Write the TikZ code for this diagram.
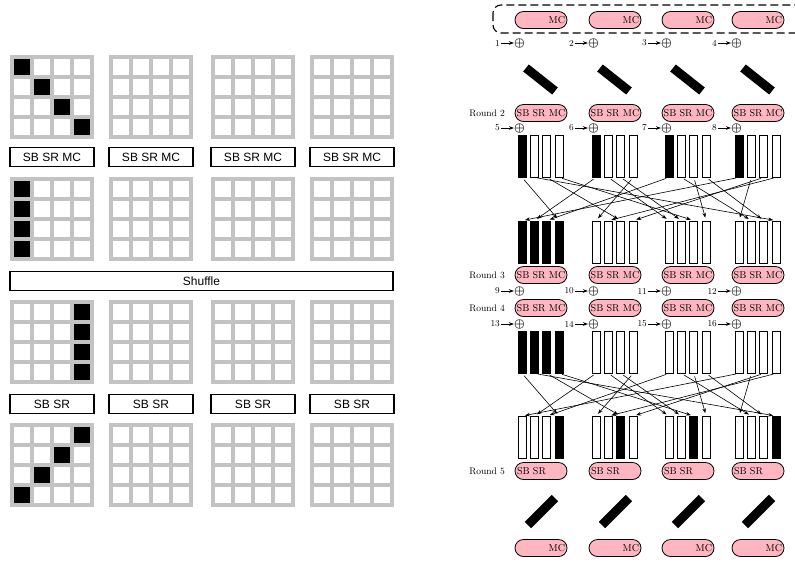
\documentclass[tikz,border=0pt]{standalone}
\usepackage{amsmath}
\usepackage{fontspec}
\newfontfamily\arialfont{Liberation Sans}
\usepackage{xcolor}
\usetikzlibrary{arrows.meta}
\definecolor{pillpink}{RGB}{255,182,193}
\definecolor{gridgray}{RGB}{195,195,195}
\begin{document}
\begin{tikzpicture}[x=1pt, y=-1pt, >={Stealth[length=5pt,width=3.6pt]},
  box/.style={draw, line width=1.6pt, minimum height=19pt, inner sep=0pt, font=\arialfont\fontsize{12}{14}\selectfont},
  pill/.style={draw, fill=pillpink, rounded corners=8.5pt, minimum height=17pt, minimum width=52pt, inner sep=1pt, line width=0.8pt, font=\fontsize{10}{11}\selectfont},
  side/.style={pill, text width=48pt, inner sep=2pt},
  colbox/.style={draw, minimum width=8pt, minimum height=42pt, inner sep=0pt, line width=0.8pt},
  rnd/.style={anchor=east, inner sep=1pt, font=\fontsize{9.5}{10}\selectfont},
  num/.style={anchor=east, inner sep=1pt, font=\fontsize{9}{10}\selectfont},
  xo/.style={inner sep=0pt, font=\fontsize{12.5}{12}\selectfont},
  cell/.style={gridgray, line width=3.5pt, line cap=rect},
  bar/.style={line width=9pt},
  perm/.style={->, line width=0.6pt, shorten <=3pt, shorten >=3pt}]

\fill[white] (0,0) rectangle (795,563);
\useasboundingbox (0,0) rectangle (795,563);

% left: active bytes in the first state
\foreach \i in {0,...,3} {
  \fill ({12+20*\i},{57+20*\i}) rectangle +(20,20);
  \fill (12,{179+20*\i}) rectangle +(20,20);
  \fill (72,{302+20*\i}) rectangle +(20,20);
  \fill ({12+20*(3-\i)},{425+20*\i}) rectangle +(20,20);
}
\foreach \gx in {10,109,211,310}
  \foreach \gy in {55,177,300,423}
    \foreach \k in {0,...,4} {
      \draw[cell] (\gx+2+20*\k,\gy+2) -- (\gx+2+20*\k,\gy+82);
      \draw[cell] (\gx+2,\gy+2+20*\k) -- (\gx+82,\gy+2+20*\k);
    }
\foreach \gx [count=\n] in {10,109,211,310} {
  \node[box, minimum width=84pt] (mc\n) at (\gx+42,157) {SB SR MC};
  \node[box, minimum width=84pt] (sr\n) at (\gx+42,404) {SB SR};
}
\node[box, minimum width=383pt] (shuf) at (201.5,281) {Shuffle};

% right: four states
\draw[line width=1.1pt, rounded corners=8pt, dash pattern=on 8pt off 4pt] (493,5) rectangle (815,33);
\node[rnd] (rl2) at (506,113) {Round 2};
\node[rnd] (rl3) at (506,275) {Round 3};
\node[rnd] (rl4) at (506,308) {Round 4};
\node[rnd] (rl5) at (506,471) {Round 5};

\foreach \s/\x/\k in {0/518/3,1/592/2,2/665/2,3/735/3} {
  \node[side, align=right] (mca\s) at (\x+23,20) {MC};
  \node[pill] (p2\s) at (\x+23,113) {SB SR MC};
  \node[pill] (p3\s) at (\x+23,275) {SB SR MC};
  \node[pill] (p4\s) at (\x+23,308) {SB SR MC};
  \node[side, align=left] (p5\s) at (\x+23,471) {SB SR};
  \node[side, align=right] (mcb\s) at (\x+23,548) {MC};
  \draw[bar] (\x+8,68) -- (\x+37,91);
  \draw[bar] (\x+10,525) -- (\x+37,498);
  % round constants
  \foreach \r/\y/\o in {a/43/1,b/128/5,c/291/9,d/324/13} {
    \pgfmathtruncatemacro\nr{\s+\o}
    \node[xo] (x\r\s) at (\x+1.5,\y) {$\boldsymbol{\oplus}$};
    \node[num] (n\r\s) at (\x-17,\y) {\nr};
    \draw[->, line width=0.7pt] (n\r\s) -- (x\r\s);
  }
  \foreach \c in {0,...,3} {
    \ifnum\c=0 \def\fa{black}\else\def\fa{white}\fi
    \ifnum\s=0 \def\fb{black}\else\def\fb{white}\fi
    \ifnum\c=\k \def\fc{black}\else\def\fc{white}\fi
    \node[colbox, fill=\fa] (a\s\c) at (\x+4+12.4*\c,156) {};
    \node[colbox, fill=\fb] (b\s\c) at (\x+4+12.4*\c,242) {};
    \node[colbox, fill=\fb] (c\s\c) at (\x+4+12.4*\c,352) {};
    \node[colbox, fill=\fc] (d\s\c) at (\x+4+12.4*\c,437.5) {};
  }
}

% column shuffle
\foreach \s/\c/\t/\d in {0/0/0/3, 0/1/3/3, 0/2/1/2, 0/3/2/2,
                         1/0/0/1, 1/1/2/0, 1/2/2/1, 1/3/1/0,
                         2/0/0/2, 2/1/3/1, 2/2/2/3, 2/3/3/2,
                         3/0/0/0, 3/1/3/0, 3/2/1/3, 3/3/1/1} {
  \draw[perm] (a\s\c.south) -- (b\t\d.north);
  \draw[perm] (c\s\c.south) -- (d\t\d.north);
}
\end{tikzpicture}
\end{document}
